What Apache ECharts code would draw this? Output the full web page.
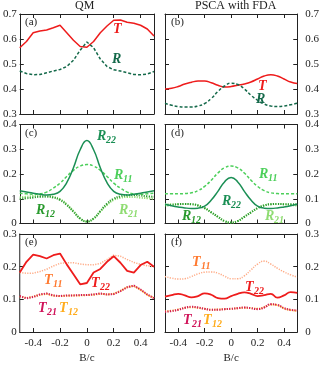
<!DOCTYPE html>
<html>
<head>
<meta charset="utf-8">
<script src="https://cdn.jsdelivr.net/npm/echarts@6/dist/echarts.min.js"></script>
<style>
  html, body { margin: 0; padding: 0; background: #fff; }
  #chart { width: 322px; height: 365px; }
</style>
</head>
<body>
<div id="chart"></div>
<script>
  // B/c sample positions
  var xs = [-0.5, -0.45, -0.4, -0.35, -0.3, -0.25, -0.2, -0.15, -0.1, -0.05, 0,
            0.05, 0.1, 0.15, 0.2, 0.25, 0.3, 0.35, 0.4, 0.45, 0.5];
  var xTicks = [-0.4, -0.2, 0, 0.2, 0.4];

  // (a) QM
  var qmT = [0.565, 0.59, 0.625, 0.632, 0.636, 0.645, 0.655, 0.625, 0.595, 0.57, 0.567,
             0.59, 0.625, 0.652, 0.675, 0.676, 0.667, 0.663, 0.655, 0.64, 0.612];
  var qmR = [0.472, 0.462, 0.457, 0.458, 0.465, 0.472, 0.478, 0.49, 0.515, 0.555, 0.588,
             0.565, 0.52, 0.49, 0.477, 0.472, 0.465, 0.458, 0.457, 0.46, 0.47];
  // (b) PSCA
  var pT = [0.40, 0.403, 0.41, 0.42, 0.427, 0.432, 0.432, 0.425, 0.415, 0.408, 0.41,
            0.415, 0.42, 0.428, 0.44, 0.452, 0.457, 0.452, 0.44, 0.428, 0.422];
  var pR = [0.343, 0.335, 0.33, 0.328, 0.328, 0.332, 0.342, 0.362, 0.39, 0.412, 0.423,
            0.418, 0.4, 0.375, 0.355, 0.34, 0.332, 0.33, 0.332, 0.337, 0.343];
  // (c) QM
  var qmR22 = [0.132, 0.127, 0.122, 0.118, 0.115, 0.118, 0.13, 0.165, 0.225, 0.298, 0.335,
               0.298, 0.225, 0.165, 0.13, 0.118, 0.115, 0.118, 0.122, 0.127, 0.132];
  var qmR11 = [0.122, 0.12, 0.118, 0.12, 0.127, 0.143, 0.163, 0.19, 0.215, 0.232, 0.238,
               0.232, 0.215, 0.19, 0.163, 0.143, 0.127, 0.12, 0.118, 0.12, 0.122];
  var qmR12 = [0.1, 0.102, 0.105, 0.108, 0.108, 0.105, 0.095, 0.075, 0.048, 0.02, 0.008,
               0.02, 0.05, 0.08, 0.1, 0.11, 0.114, 0.115, 0.113, 0.11, 0.108];
  var qmR21 = [0.106, 0.108, 0.111, 0.113, 0.112, 0.108, 0.098, 0.078, 0.05, 0.02, 0.008,
               0.02, 0.048, 0.075, 0.095, 0.104, 0.107, 0.107, 0.104, 0.102, 0.1];
  // (d) PSCA
  var pR11 = [0.12, 0.12, 0.12, 0.121, 0.124, 0.133, 0.15, 0.175, 0.204, 0.225, 0.232,
              0.225, 0.204, 0.175, 0.15, 0.133, 0.124, 0.121, 0.12, 0.12, 0.12];
  var pR22 = [0.078, 0.072, 0.067, 0.063, 0.061, 0.062, 0.07, 0.095, 0.13, 0.168, 0.186,
              0.168, 0.13, 0.095, 0.07, 0.062, 0.061, 0.063, 0.067, 0.072, 0.078];
  var pR12 = [0.072, 0.075, 0.078, 0.079, 0.078, 0.073, 0.062, 0.045, 0.027, 0.01, 0.004,
              0.01, 0.027, 0.045, 0.062, 0.073, 0.078, 0.079, 0.078, 0.078, 0.078];
  var pR21 = [0.078, 0.078, 0.078, 0.079, 0.078, 0.073, 0.062, 0.045, 0.027, 0.01, 0.004,
              0.01, 0.027, 0.045, 0.062, 0.073, 0.078, 0.079, 0.078, 0.075, 0.072];
  // (e) QM
  var qmT22 = [0.182, 0.215, 0.237, 0.232, 0.225, 0.235, 0.24, 0.207, 0.177, 0.146, 0.15,
               0.182, 0.193, 0.215, 0.232, 0.212, 0.187, 0.182, 0.205, 0.215, 0.2];
  var qmT11 = [0.182, 0.18, 0.18, 0.185, 0.192, 0.202, 0.21, 0.212, 0.212, 0.208, 0.206,
               0.206, 0.21, 0.222, 0.235, 0.232, 0.222, 0.213, 0.207, 0.203, 0.2];
  var qmT21 = [0.11, 0.103, 0.107, 0.115, 0.118, 0.112, 0.11, 0.112, 0.112, 0.113, 0.113,
               0.115, 0.118, 0.115, 0.116, 0.125, 0.137, 0.142, 0.13, 0.115, 0.103];
  var qmT12 = [0.109, 0.104, 0.108, 0.114, 0.117, 0.111, 0.11, 0.111, 0.112, 0.112, 0.113,
               0.114, 0.117, 0.115, 0.117, 0.126, 0.137, 0.141, 0.129, 0.114, 0.104];
  // (f) PSCA
  var pT11 = [0.17, 0.165, 0.162, 0.163, 0.17, 0.178, 0.183, 0.184, 0.18, 0.171, 0.163,
              0.163, 0.172, 0.19, 0.208, 0.217, 0.208, 0.195, 0.184, 0.175, 0.168];
  var pT22 = [0.108, 0.113, 0.117, 0.112, 0.106, 0.11, 0.118, 0.114, 0.104, 0.102, 0.11,
              0.117, 0.121, 0.117, 0.11, 0.113, 0.117, 0.105, 0.112, 0.122, 0.12];
  var pT21 = [0.062, 0.064, 0.068, 0.074, 0.077, 0.075, 0.071, 0.068, 0.068, 0.07, 0.071,
              0.073, 0.075, 0.073, 0.07, 0.075, 0.085, 0.083, 0.073, 0.068, 0.066];
  var pT12 = [0.063, 0.065, 0.069, 0.074, 0.076, 0.074, 0.071, 0.068, 0.069, 0.07, 0.071,
              0.073, 0.074, 0.073, 0.071, 0.076, 0.084, 0.082, 0.072, 0.067, 0.065];

  var yRanges = [[0.3, 0.7], [0.3, 0.7], [0, 0.4], [0, 0.4], [0, 0.3], [0, 0.3]];
  var yTicks = [[0.3, 0.4, 0.5, 0.6, 0.7], [0.3, 0.4, 0.5, 0.6, 0.7],
                [0, 0.1, 0.2, 0.3, 0.4], [0, 0.1, 0.2, 0.3, 0.4],
                [0, 0.1, 0.2, 0.3], [0, 0.1, 0.2, 0.3]];

  var RED = '#ee1c1c', DKG = '#14694a', G22 = '#1b8f55', G11 = '#4ccf5a',
      G12 = '#2a9a2e', G21 = '#8fdc72', T11C = '#ffab86', T21C = '#d0145a', T12C = '#ffac1c';
  var serif = 'Liberation Serif';

  var lefts = [19, 165], widths = [135, 134];
  var tops = [14, 124.5, 234], heights = [100, 99, 99];

  var grids = [], xAxes = [], yAxes = [];
  for (var i = 0; i < 6; i++) {
    var row = Math.floor(i / 2), col = i % 2;
    grids.push({left: lefts[col], top: tops[row], width: widths[col], height: heights[row]});
    var tick = {show: true, inside: true, length: 4, lineStyle: {color: '#222', width: 1}};
    var line = {show: true, onZero: false, lineStyle: {color: '#222', width: 1}};
    xAxes.push({
      type: 'value', gridIndex: i, position: 'bottom', min: -0.5, max: 0.5,
      axisLine: line, splitLine: {show: false},
      axisTick: Object.assign({customValues: xTicks}, tick),
      axisLabel: {show: row === 2, customValues: xTicks, margin: 6, color: '#222',
                  fontFamily: serif, fontSize: 11},
      name: row === 2 ? 'B/c' : '', nameLocation: 'middle', nameGap: 21,
      nameTextStyle: {color: '#222', fontFamily: serif, fontSize: 11}
    });
    xAxes.push({
      type: 'value', gridIndex: i, position: 'top', min: -0.5, max: 0.5,
      axisLine: line, splitLine: {show: false},
      axisTick: Object.assign({customValues: xTicks}, tick),
      axisLabel: {show: false}
    });
    yAxes.push({
      type: 'value', gridIndex: i, position: 'left', min: yRanges[i][0], max: yRanges[i][1],
      axisLine: line, splitLine: {show: false},
      axisTick: Object.assign({customValues: yTicks[i]}, tick),
      axisLabel: {show: col === 0, customValues: yTicks[i], margin: 3, color: '#222',
                  fontFamily: serif, fontSize: 11}
    });
    yAxes.push({
      type: 'value', gridIndex: i, position: 'right', min: yRanges[i][0], max: yRanges[i][1],
      axisLine: line, splitLine: {show: false},
      axisTick: Object.assign({customValues: yTicks[i]}, tick),
      axisLabel: {show: col === 1, customValues: yTicks[i], margin: 8, color: '#222',
                  fontFamily: serif, fontSize: 11}
    });
  }

  function pairs(ys) {
    return xs.map(function (x, k) { return [x, ys[k]]; });
  }
  function mk(g, ys, color, dash, width, smooth) {
    return {
      type: 'line', xAxisIndex: 2 * g, yAxisIndex: 2 * g, data: pairs(ys),
      showSymbol: false, smooth: smooth, silent: true, animation: false,
      lineStyle: {color: color, width: width, type: dash}
    };
  }
  var dash = [3, 2], dot = [1.2, 1.3];
  var series = [
    mk(0, qmT, RED, 'solid', 1.5, false),
    mk(0, qmR, DKG, dash, 1.5, false),
    mk(1, pT, RED, 'solid', 1.5, true),
    mk(1, pR, DKG, dash, 1.5, true),
    mk(2, qmR11, G11, dash, 1.5, true),
    mk(2, qmR21, G21, dot, 2, true),
    mk(2, qmR12, G12, dot, 2, true),
    mk(2, qmR22, G22, 'solid', 1.5, true),
    mk(3, pR11, G11, dash, 1.5, true),
    mk(3, pR21, G21, dot, 2, true),
    mk(3, pR12, G12, dot, 2, true),
    mk(3, pR22, G22, 'solid', 1.5, true),
    mk(4, qmT11, T11C, dot, 1.5, false),
    mk(4, qmT22, RED, 'solid', 1.8, false),
    mk(4, qmT12, T12C, dot, 2, false),
    mk(4, qmT21, T21C, dot, 2, false),
    mk(5, pT11, T11C, dot, 1.5, true),
    mk(5, pT22, RED, 'solid', 1.8, true),
    mk(5, pT12, T12C, dot, 2, true),
    mk(5, pT21, T21C, dot, 2, true)
  ];

  var graphic = [];
  function txt(x, y, s, size, color, italic) {
    graphic.push({type: 'text', left: x, top: y, silent: true, style: {
      text: s, fill: color, fontFamily: serif, fontSize: size,
      fontStyle: italic ? 'italic' : 'normal', fontWeight: italic ? 'bold' : 'normal'}});
  }
  function lab(x, y, main, sub, color) {
    txt(x, y, main, 14, color, true);
    if (sub) txt(x + 9, y + 6, sub, 10, color, true);
  }
  txt(75, 0, 'QM', 12, '#222', false);
  txt(195, 0, 'PSCA with FDA', 12, '#222', false);
  var panels = ['(a)', '(b)', '(c)', '(d)', '(e)', '(f)'];
  for (var p = 0; p < 6; p++) {
    txt(lefts[p % 2] + 6, tops[Math.floor(p / 2)] + 3, panels[p], 11, '#222', false);
  }
  lab(113, 22, 'T', '', RED);
  lab(112, 52, 'R', '', DKG);
  lab(258, 79, 'T', '', RED);
  lab(256, 92, 'R', '', DKG);
  lab(97, 129, 'R', '22', G22);
  lab(114, 168, 'R', '11', G11);
  lab(36, 203, 'R', '12', G12);
  lab(119, 203, 'R', '21', G21);
  lab(259, 167, 'R', '11', G11);
  lab(222, 194, 'R', '22', G22);
  lab(182, 209, 'R', '12', G12);
  lab(265, 209, 'R', '21', G21);
  lab(44, 273, 'T', '11', '#ff7a30');
  lab(91, 276, 'T', '22', RED);
  lab(38, 301, 'T', '21', T21C);
  lab(59, 301, 'T', '12', T12C);
  lab(192, 255, 'T', '11', '#ff7a30');
  lab(245, 280, 'T', '22', RED);
  lab(183, 313, 'T', '21', T21C);
  lab(203, 313, 'T', '12', T12C);

  var myChart = echarts.init(document.getElementById('chart'));
  myChart.setOption({
    animation: false,
    backgroundColor: '#fff',
    grid: grids,
    xAxis: xAxes,
    yAxis: yAxes,
    series: series,
    graphic: graphic
  });
</script>
</body>
</html>
